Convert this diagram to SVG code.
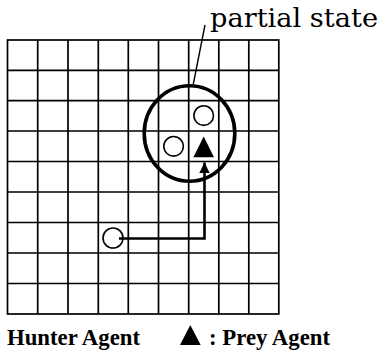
<svg xmlns="http://www.w3.org/2000/svg" width="382" height="353" viewBox="0 0 382 353">
<defs>
<style>
.grid{fill:none;stroke:#000;stroke-width:1.7}
.agent{fill:#fff;stroke:#000;stroke-width:1.6}
.prey{fill:#000;stroke:none}
.lbl{font-family:"DejaVu Serif","Liberation Serif",serif;fill:#000}
.leg{font-family:"Liberation Serif","DejaVu Serif",serif;font-weight:bold;fill:#000}
.conn{fill:none;stroke:#000;stroke-width:2.6}
</style>
<marker id="ah" viewBox="0 0 10 10" refX="10" refY="5" markerWidth="4.2" markerHeight="4" orient="auto" markerUnits="strokeWidth">
<path d="M0,0 L10,5 L0,10 z" fill="#000"/>
</marker>
</defs>
<rect width="382" height="353" fill="#fff"/>
<g id="grid">
<rect class="grid" x="7.5" y="40" width="271.3" height="274"/>
<path class="grid" d="M37.7,40V314M68,40V314M98.3,40V314M128.3,40V314M158.5,40V314M188.7,40V314M218.8,40V314M248.8,40V314M7.5,70.3H278.8M7.5,100.7H278.8M7.5,131H278.8M7.5,161.5H278.8M7.5,192H278.8M7.5,222.5H278.8M7.5,253H278.8M7.5,283.5H278.8"/>
</g>
<g id="partial-state">
<ellipse cx="189.5" cy="133.5" rx="45.3" ry="47.7" fill="none" stroke="#000" stroke-width="3.6"/>
<line x1="193.3" y1="84" x2="205" y2="25" stroke="#000" stroke-width="1.4"/>
<text class="lbl" x="210" y="27" font-size="26" textLength="168" lengthAdjust="spacingAndGlyphs">partial state</text>
</g>
<g id="hunter1"><circle class="agent" cx="203.7" cy="115.6" r="9.8"/></g>
<g id="hunter2"><circle class="agent" cx="173.6" cy="146.3" r="9.8"/></g>
<g id="hunter3"><circle class="agent" cx="113" cy="238" r="10"/></g>
<g id="prey"><path class="prey" d="M203.7,136.5 L214,157.3 L193.4,157.3 Z"/></g>
<g id="connectors">
<path class="conn" d="M119,238.5 H204.5 V162.5" marker-end="url(#ah)"/>
</g>
<g id="legend">
<text class="leg" x="7" y="345" font-size="22.5" textLength="133" lengthAdjust="spacingAndGlyphs">Hunter Agent</text>
<path class="prey" d="M190.3,325 L200.7,345 L180,345 Z"/>
<text class="leg" x="209" y="345" font-size="22.5" textLength="121" lengthAdjust="spacingAndGlyphs">: Prey Agent</text>
</g>
</svg>
